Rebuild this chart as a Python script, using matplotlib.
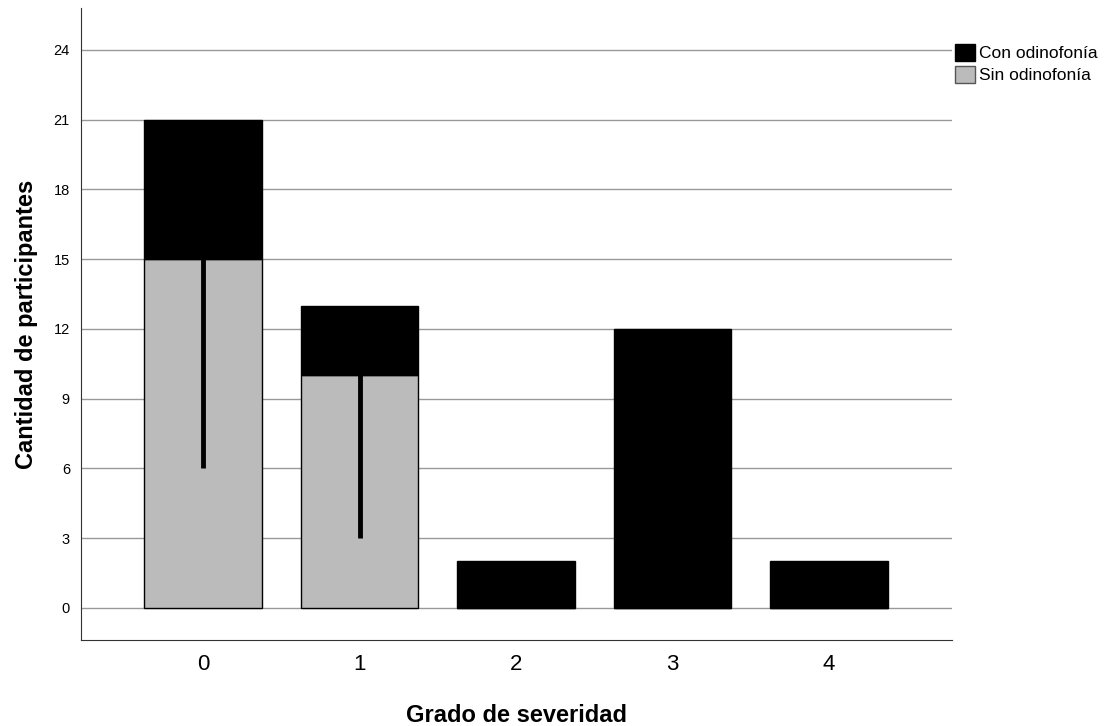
import matplotlib.pyplot as plt
from matplotlib.patches import Patch

plt.rcParams['font.family'] = ['Liberation Sans', 'DejaVu Sans']

grados = ['0', '1', '2', '3', '4']
sin_odino = [15, 10, 0, 0, 0]
con_odino = [6, 3, 2, 12, 2]
linea_bajo = [6, 3]
linea_alto = [15, 10]
yticks = [0, 3, 6, 9, 12, 15, 18, 21, 24]

fig = plt.figure(figsize=(11.07, 7.26), dpi=100)
ax = fig.add_axes([0.0732, 0.1185, 0.7868, 0.8705])

x = list(range(len(grados)))
ax.bar(x, sin_odino, width=0.75, color='#bbbbbb', edgecolor='black', linewidth=1, zorder=3)
ax.bar(x, con_odino, width=0.75, bottom=sin_odino, color='black', edgecolor='black', linewidth=1, zorder=3)
ax.vlines(x[:2], linea_bajo, linea_alto, color='black', linewidth=3.5, zorder=4)

ax.set_ylim(-1.376, 25.8)
ax.set_xlim(-0.78, 4.786)
ax.set_yticks(yticks)
ax.set_xticks(x)
ax.set_xticklabels(grados, fontsize=16)
ax.tick_params(axis='y', labelsize=10.5, length=0, pad=8)
ax.tick_params(axis='x', length=0, pad=10)
ax.grid(axis='y', color='#999999', linewidth=1, zorder=0)
ax.spines['top'].set_visible(False)
ax.spines['right'].set_visible(False)
ax.spines['left'].set_color('#333333')
ax.spines['bottom'].set_color('#333333')

ax.set_xlabel('Grado de severidad', fontsize=17, fontweight='bold', labelpad=21)
ax.set_ylabel('Cantidad de participantes', fontsize=17, fontweight='bold', labelpad=11)

handles = [Patch(facecolor='black', edgecolor='black', label='Con odinofonía'),
           Patch(facecolor='#bbbbbb', edgecolor='#555555', label='Sin odinofonía')]
fig.legend(handles=handles, loc='upper left', bbox_to_anchor=(0.8627, 0.94),
           frameon=False, fontsize=12.5, handlelength=1.15, handleheight=1.2,
           handletextpad=0.25, labelspacing=0.25, borderaxespad=0, borderpad=0)

fig.savefig('out.png', dpi=100)
